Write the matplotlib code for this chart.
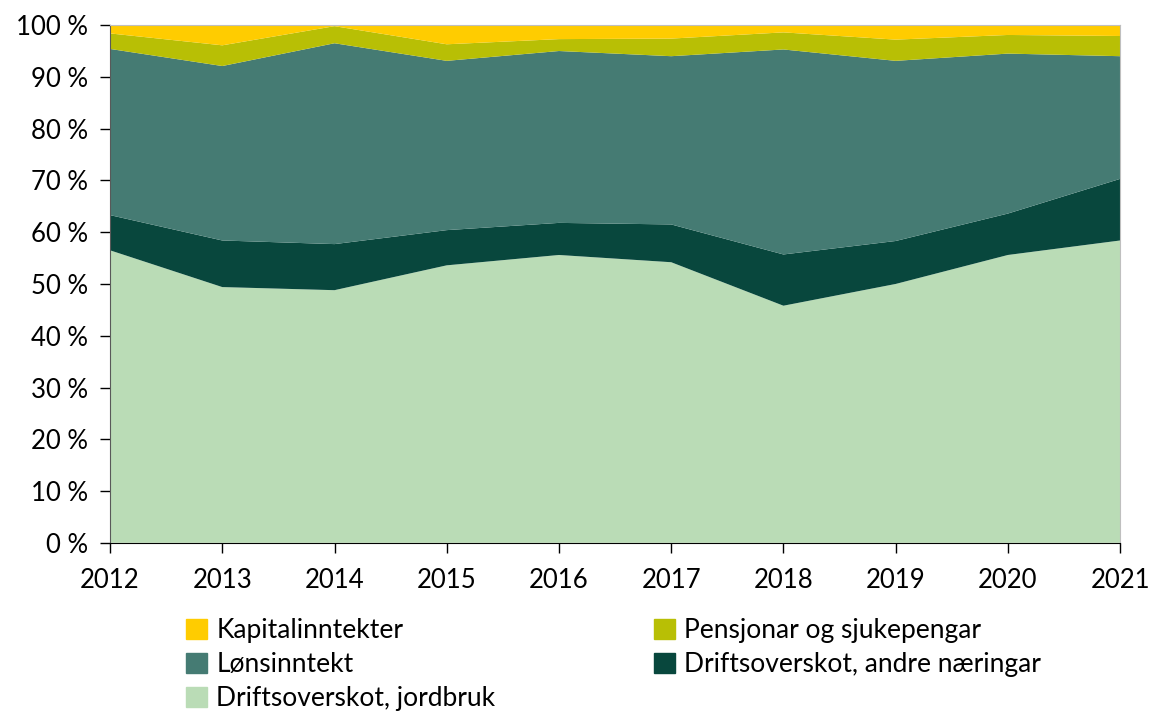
import numpy as np
import matplotlib.pyplot as plt
from matplotlib.patches import Patch

plt.rcParams['font.family'] = ['Lato', 'DejaVu Sans']

years = [2012, 2013, 2014, 2015, 2016, 2017, 2018, 2019, 2020, 2021]

# andelar i prosent
jordbruk = [56.5, 49.4, 48.8, 53.6, 55.6, 54.2, 45.8, 50.0, 55.6, 58.4]
andre = [6.8, 9.0, 8.9, 6.8, 6.2, 7.3, 9.9, 8.3, 8.0, 11.9]
lons = [32.1, 33.7, 38.8, 32.7, 33.2, 32.5, 39.6, 34.8, 30.9, 23.7]
pensjon = [3.0, 4.0, 3.3, 3.2, 2.3, 3.4, 3.3, 4.1, 3.6, 3.9]
kapital = [1.6, 3.9, 0.2, 3.7, 2.7, 2.6, 1.4, 2.8, 1.9, 2.1]

namn = ["Driftsoverskot, jordbruk", "Driftsoverskot, andre næringar",
        "Lønsinntekt", "Pensjonar og sjukepengar", "Kapitalinntekter"]
fargar = ["#badcb6", "#08473d", "#457b73", "#b8bf05", "#ffcc00"]

fig = plt.figure(figsize=(11.5, 7.18), dpi=100)
ax = fig.add_axes([0.0957, 0.244, 0.8783, 0.721])

ax.stackplot(years, jordbruk, andre, lons, pensjon, kapital, colors=fargar, linewidth=0)

ax.set_xlim(2012, 2021)
ax.set_ylim(0, 100)
ax.set_xticks(years)
ax.set_yticks(range(0, 101, 10))
ax.set_yticklabels([f"{v} %" for v in range(0, 101, 10)])
ax.tick_params(axis='both', labelsize=18.5, direction='out', length=7, width=1)
ax.tick_params(axis='x', pad=11)
ax.tick_params(axis='y', pad=9)
for s in ['top', 'right']:
    ax.spines[s].set_color('#bfbfbf')
ax.spines['left'].set_color('#595959')
ax.spines['bottom'].set_color('black')

handles = [Patch(color=c) for c in fargar]
order = [4, 2, 0, 3, 1]
fig.legend([handles[i] for i in order], [namn[i] for i in order],
           ncol=2, loc='upper left', bbox_to_anchor=(0.157, 0.146),
           frameon=False, fontsize=19, handlelength=0.8, handleheight=0.8,
           handletextpad=0.35, columnspacing=6.0, labelspacing=0.33,
           borderaxespad=0, borderpad=0.2)

plt.savefig("out.png", dpi=100)
